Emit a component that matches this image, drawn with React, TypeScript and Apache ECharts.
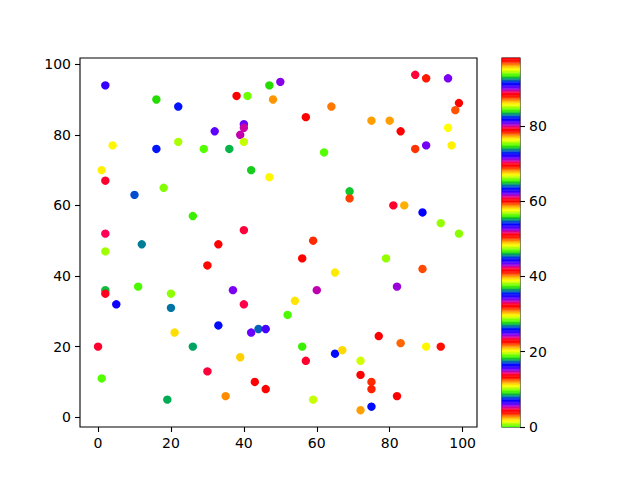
import React, { useEffect, useRef } from 'react';
import * as echarts from 'echarts';

// point positions and colour values
const xs = [
  2, 16, 22, 38, 41, 47, 50, 48, 32, 40, 40, 39, 40, 4, 16, 22, 29, 36, 1, 2,
  42, 47, 10, 18, 26, 2, 12, 33, 40, 87, 90, 96, 99, 98, 64, 57, 75, 80, 83, 96,
  87, 90, 97, 62, 69, 69, 81, 84, 89, 94, 99, 59, 2, 30, 2, 2, 11, 20, 5, 20,
  37, 40, 33, 21, 42, 44, 46, 0, 26, 39, 1, 30, 43, 46, 35, 19, 56, 79, 65, 89,
  60, 82, 54, 52, 77, 83, 90, 94, 56, 57, 65, 67, 72, 72, 75, 75, 82, 59, 72, 75,
];
const ys = [
  94, 90, 88, 91, 91, 94, 95, 90, 81, 83, 82, 80, 78, 77, 76, 78, 76, 76, 70, 67,
  70, 68, 63, 65, 57, 52, 49, 49, 53, 97, 96, 96, 89, 87, 88, 85, 84, 84, 81, 82,
  76, 77, 77, 75, 64, 62, 60, 60, 58, 55, 52, 50, 47, 43, 36, 35, 37, 35, 32, 31,
  36, 32, 26, 24, 24, 25, 25, 20, 20, 17, 11, 13, 10, 8, 6, 5, 45, 45, 41, 42,
  36, 37, 33, 29, 23, 21, 20, 20, 20, 16, 18, 19, 16, 12, 10, 8, 6, 5, 2, 3,
];
const cs = [
  62.6, 27.66, 82.29, 50.64, 9.85, 74.46, 33.76, 58.61, 15.48, 90.03,
  42.67, 61.43, 85.24, 1.64, 35.4, 75.49, 0.0, 27.19, 67.29, 13.84,
  83.56, 48.39, 7.97, 93.87, 37.51, 70.42, 54.86, 32.12, 79.48, 32.59,
  68.93, 6.0, 97.77, 49.94, 21.71, 78.54, 39.85, 86.74, 98.0, 57.44,
  12.76, 24.61, 67.06, 46.98, 18.2, 87.45, 60.49, 2.34, 72.68, 37.98,
  66.03, 31.65, 56.74, 13.37, 92.84, 41.97, 74.93, 19.23, 35.17, 82.99,
  52.75, 4.69, 63.4, 30.01, 90.26, 45.48, 71.64, 14.16, 36.57, 67.53,
  0.38, 79.48, 60.26, 32.12, 77.36, 8.68, 50.88, 84.78, 39.15, 68.6,
  14.91, 89.93, 57.91, 27.99, 79.01, 12.33, 48.3, 87.78, 37.51, 60.63,
  16.74, 95.42, 57.11, 32.35, 78.21, 3.75, 50.88, 85.24, 39.85, 63.54,
];

const xTicks = [0, 20, 40, 60, 80, 100];
const yTicks = [0, 20, 40, 60, 80, 100];
const cbTicks = [0, 20, 40, 60, 80];
const cMin = 0;
const cMax = 98;

// matplotlib "prism_r" colormap, 256 entries
const clip = (v: number) => Math.max(0, Math.min(1, v));
const prism = (x: number) => {
  const t = x * 20.9;
  const r = clip(0.75 * Math.sin((t + 0.25) * Math.PI) + 0.67);
  const g = clip(0.75 * Math.sin((t - 0.25) * Math.PI) + 0.33);
  const b = clip(-1.1 * Math.sin(t * Math.PI));
  return `rgb(${Math.round(r * 255)},${Math.round(g * 255)},${Math.round(b * 255)})`;
};
const N = 256;
const lut: string[] = [];
for (let i = 0; i < N; i++) lut.push(prism(1 - i / (N - 1)));
const lutIndex = (c: number) =>
  Math.max(0, Math.min(N - 1, Math.floor(((c - cMin) / (cMax - cMin)) * N)));

const FONT = 'DejaVu Sans';

const App: React.FC = () => {
  const chartRef = useRef<HTMLDivElement>(null);

  useEffect(() => {
    const chart = echarts.init(chartRef.current!, undefined, { renderer: 'svg' });

    const points = xs.map((x, i) => [x, ys[i], cs[i]]);
    const bands = lut.map((_, i) => [i]);

    const label = { color: '#000', fontSize: 14, fontFamily: FONT, margin: 9 };
    const tick = { length: 5, lineStyle: { color: '#000', width: 1.1 } };
    const noLine = { show: false, onZero: false };

    const options = {
      animation: false,
      backgroundColor: '#fff',
      grid: [
        {
          left: 80, top: 58, width: 397, height: 369,
          show: true, borderColor: '#000', borderWidth: 1.1, backgroundColor: 'transparent',
          containLabel: false, outerBoundsMode: 'none',
        },
        {
          left: 502, top: 58, width: 18, height: 369,
          show: true, borderColor: '#000', borderWidth: 1.1, backgroundColor: 'transparent',
          containLabel: false, outerBoundsMode: 'none',
        },
      ],
      xAxis: [
        {
          type: 'value', gridIndex: 0, min: -4.95, max: 103.95, position: 'bottom',
          axisLine: noLine,
          axisTick: { ...tick, customValues: xTicks },
          axisLabel: { ...label, customValues: xTicks },
          splitLine: { show: false },
        },
        {
          type: 'value', gridIndex: 1, min: 0, max: 1, show: false,
        },
      ],
      yAxis: [
        {
          type: 'value', gridIndex: 0, min: -2.75, max: 101.75, position: 'left',
          axisLine: noLine,
          axisTick: { ...tick, customValues: yTicks },
          axisLabel: { ...label, customValues: yTicks },
          splitLine: { show: false },
        },
        {
          type: 'value', gridIndex: 1, min: cMin, max: cMax, position: 'right',
          axisLine: noLine,
          axisTick: { ...tick, customValues: cbTicks },
          axisLabel: { ...label, customValues: cbTicks },
          splitLine: { show: false },
        },
      ],
      series: [
        {
          type: 'scatter',
          xAxisIndex: 0,
          yAxisIndex: 0,
          data: points,
          symbolSize: 8.4,
          itemStyle: {
            opacity: 1,
            color: (p: any) => lut[lutIndex(p.value[2])],
          },
        },
        {
          type: 'custom',
          xAxisIndex: 1,
          yAxisIndex: 1,
          data: bands,
          renderItem: (params: any, api: any) => {
            const i = api.value(0);
            const lo = cMin + (i / N) * (cMax - cMin);
            const hi = cMin + ((i + 1) / N) * (cMax - cMin);
            const a = api.coord([0, hi]);
            const b = api.coord([1, lo]);
            return {
              type: 'rect',
              shape: { x: a[0], y: a[1], width: b[0] - a[0], height: b[1] - a[1] },
              style: { fill: lut[i], stroke: lut[i], lineWidth: 0.4 },
            };
          },
        },
      ],
    };

    chart.setOption(options as any);

    return () => {
      chart.dispose();
    };
  }, []);

  return (
    <div
      ref={chartRef}
      style={{ position: 'fixed', left: 0, top: 0, width: '640px', height: '480px' }}
    />
  );
};

export default App;
